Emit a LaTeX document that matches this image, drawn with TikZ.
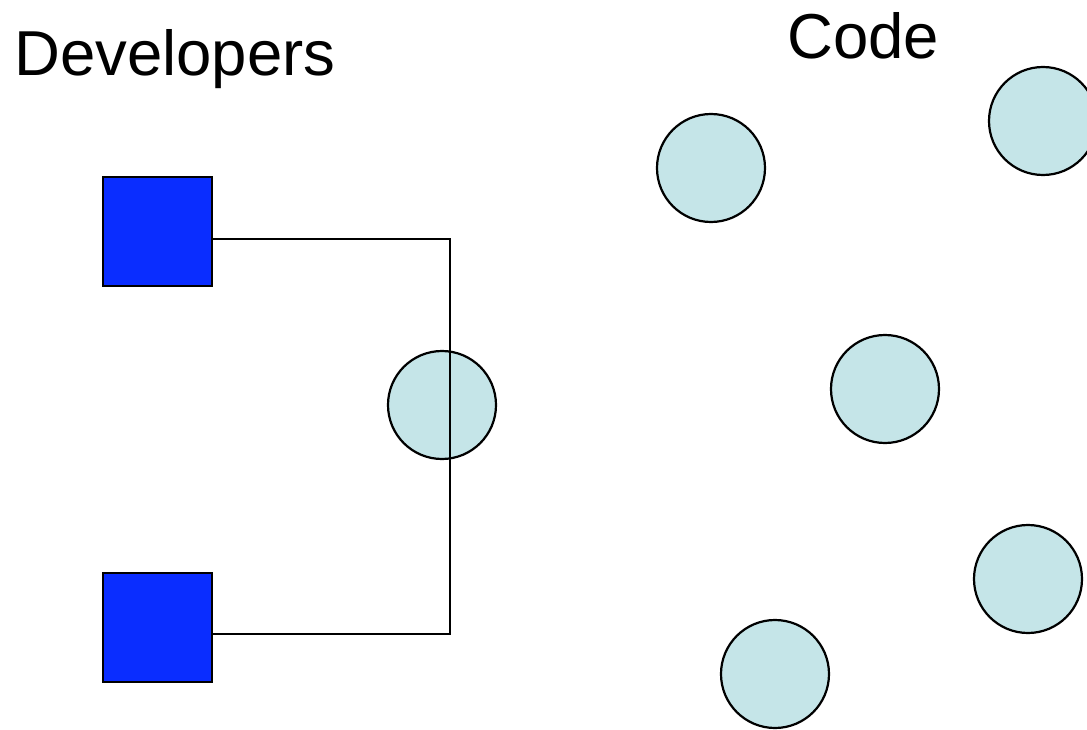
\documentclass[tikz,border=0pt]{standalone}
\usepackage{fontspec}
\setmainfont{Liberation Sans}
\definecolor{devblue}{HTML}{0A2DFF}
\definecolor{codecyan}{HTML}{C5E5E8}
\begin{document}
\begin{tikzpicture}[x=1pt,y=-1pt,
  dev/.style={draw=black,line width=2.2pt,fill=devblue,minimum size=109pt,inner sep=0pt,rectangle},
  code/.style={draw=black,line width=2.2pt,fill=codecyan,circle,minimum size=108pt,inner sep=0pt},
  conn/.style={draw=black,line width=2.2pt},
  title/.style={font=\fontsize{63.5}{70}\selectfont,anchor=base west,inner sep=0pt}]
\path[use as bounding box,fill=white] (0,0) rectangle (1087,730);
\begin{scope}
\clip (0,0) rectangle (1087,730);
\node[title] (devlabel) at (14,76) {Developers};
\node[title] (codelabel) at (787,59) {Code};
\node[dev] (d1) at (157.5,231.5) {};
\node[dev] (d2) at (157.5,627.5) {};
\node[code] (c0) at (442,405) {};
\node[code] (c1) at (711,168) {};
\node[code] (c2) at (1043,121) {};
\node[code] (c3) at (885,389) {};
\node[code] (c4) at (1028,579) {};
\node[code] (c5) at (775,674) {};
\coordinate (j1) at (450,239);
\coordinate (j2) at (450,634);
\draw[conn,line join=miter] ([yshift=-7.5pt]d1.east) -- (j1) -- (j2) -- ([yshift=-6.5pt]d2.east);
\end{scope}
\end{tikzpicture}
\end{document}
